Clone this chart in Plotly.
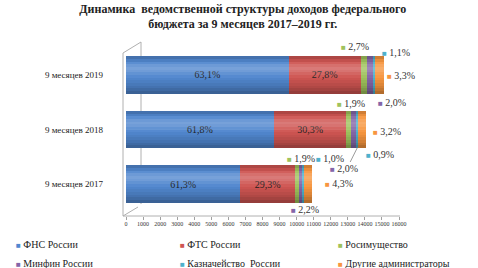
import plotly.graph_objects as go

# ---- data (billion roubles) ----
categories = ["9 месяцев 2017", "9 месяцев 2018", "9 месяцев 2019"]
series_names = ["ФНС России", "ФТС России", "Росимущество",
                "Минфин России", "Казначейство  России", "Другие администраторы"]
fns = [6700, 8671, 9541]
fts = [3202, 4251, 4203]
rosim = [208, 267, 408]
minfin = [240, 281, 302]
kazn = [109, 126, 166]
other = [470, 449, 499]

fns_pct = ["61,3%", "61,8%", "63,1%"]
fts_pct = ["29,3%", "30,3%", "27,8%"]
rosim_pct = ["1,9%", "1,9%", "2,7%"]
minfin_pct = ["2,2%", "2,0%", "2,0%"]
kazn_pct = ["1,0%", "0,9%", "1,1%"]
other_pct = ["4,3%", "3,2%", "3,3%"]

x_ticks = list(range(0, 16001, 1000))

# ---- styles ----
SERIF = "Liberation Serif, Times New Roman, serif"
colors = ["#5187cf", "#cf5552", "#9fc25c", "#8466a8", "#4eb1cc", "#f7963f"]
values = [fns, fts, rosim, minfin, kazn, other]
pcts = [fns_pct, fts_pct, rosim_pct, minfin_pct, kazn_pct, other_pct]

W, H = 478, 268
L, R, T, B = 126, 79, 43, 52
PW, PH = W - L - R, H - T - B
BAR_W = 0.68

fig = go.Figure()
legend_of = ["legend", "legend2", "legend3", "legend", "legend2", "legend3"]
for i, (name, vals, col) in enumerate(zip(series_names, values, colors)):
    inside = i < 2
    fig.add_trace(go.Bar(
        y=categories, x=vals, name=name, orientation="h",
        marker=dict(color=col, line=dict(width=0)),
        text=pcts[i] if inside else None,
        textposition="inside" if inside else "none",
        insidetextanchor="middle",
        textfont=dict(family=SERIF, size=10, color="#1e1e1e"),
        showlegend=False, hoverinfo="skip",
    ))

# cylinder shading bands (overlay, base=0 -> not stacked), top -> bottom
totals = [sum(v[k] for v in values) for k in range(len(categories))]
shade = ["rgba(0,0,0,0.16)", "rgba(0,0,0,0.06)", "rgba(255,255,255,0.06)",
         "rgba(255,255,255,0.16)", "rgba(255,255,255,0.22)", "rgba(255,255,255,0.18)",
         "rgba(255,255,255,0.10)", "rgba(255,255,255,0.03)", "rgba(0,0,0,0.02)",
         "rgba(0,0,0,0.06)", "rgba(0,0,0,0.10)", "rgba(0,0,0,0.15)",
         "rgba(0,0,0,0.21)", "rgba(0,0,0,0.28)"]
n = len(shade)
bw = BAR_W / n
for j, col in enumerate(shade):
    off = BAR_W / 2 - (j + 1) * bw
    fig.add_trace(go.Bar(
        y=categories, x=totals, base=[0] * len(categories), orientation="h",
        offset=off, width=bw * 1.02, marker=dict(color=col, line=dict(width=0)),
        showlegend=False, hoverinfo="skip",
    ))

# legend entries in three columns; the small coloured square is part of the entry text
for name, col, lg in zip(series_names, colors, legend_of):
    fig.add_trace(go.Scatter(
        x=[None], y=[None], mode="markers", legend=lg,
        name=f"<span style='color:{col};font-size:8px'>■</span> {name}",
        marker=dict(symbol="square", size=1, color="rgba(0,0,0,0)"),
    ))

# ---- callout labels for small segments ----
callouts = {
    2: [(-12, 26), (-14, 26), (-25, 28)],
    3: [(-12, -25), (-25, -39), (6, -28)],
    4: [(10, 26), (7, -25), (6, 22)],
    5: [(15, 1), (9, -2), (5, -1)],
}
annotations = []
for s, offs in callouts.items():
    for k, (dx, dy) in enumerate(offs):
        start = sum(values[j][k] for j in range(s))
        mid = start + values[s][k] / 2
        annotations.append(dict(
            x=mid, y=categories[k], xref="x", yref="y",
            text=f"<span style='color:{colors[s]};font-size:8px'>■</span> {pcts[s][k]}",
            showarrow=False, xanchor="left", yanchor="middle",
            xshift=dx, yshift=dy,
            font=dict(family=SERIF, size=10, color="#333333"),
        ))
k = 1
mid = sum(values[j][k] for j in range(3)) + values[3][k] / 2
annotations.append(dict(
    x=mid, y=categories[k], xref="x", yref="y", text="",
    showarrow=True, arrowhead=0, arrowwidth=0.8, arrowcolor="#808080",
    ax=-8, ay=16, xshift=4, yshift=-18,
))

# ---- 3D frame lines (pixel -> paper) ----
def px(x):
    return (x - L) / PW

def py(y):
    return (T + PH - y) / PH

frame = [((141, 42), (141, 204), "below"),
         ((123, 53), (123, 216), "above"),
         ((123, 53), (141, 42), "above"),
         ((123, 216), (138, 207), "above"),
         ((123, 216), (400, 216), "above")]
shapes = [dict(type="line", xref="paper", yref="paper",
               x0=px(a[0]), y0=py(a[1]), x1=px(b[0]), y1=py(b[1]),
               line=dict(color="#b0b0b0", width=1), layer=lay)
          for a, b, lay in frame]

legend_common = dict(orientation="v", xref="container", yref="container",
                     xanchor="left", yanchor="top", y=0.144,
                     traceorder="normal", indentation=-15,
                     font=dict(family=SERIF, size=10, color="#222222"),
                     itemclick=False, itemdoubleclick=False,
                     bgcolor="rgba(0,0,0,0)", tracegroupgap=0)

fig.update_layout(
    width=W, height=H,
    margin=dict(l=L, r=R, t=T, b=B, autoexpand=False),
    barmode="stack", bargap=1 - BAR_W,
    paper_bgcolor="white", plot_bgcolor="white",
    font=dict(family=SERIF, size=10, color="#222222"),
    title=dict(
        text="<b>Динамика  ведомственной структуры доходов федерального<br>бюджета за 9 месяцев 2017–2019 гг.</b>",
        x=0.508, xanchor="center", xref="container",
        y=0.953, yanchor="top", yref="container",
        font=dict(family=SERIF, size=12, color="#222222"),
    ),
    xaxis=dict(range=[0, 16000], tickvals=x_ticks, tickformat="d",
               showgrid=False, zeroline=False, showline=False,
               ticks="outside", ticklen=3, tickcolor="#a0a0a0",
               ticklabelstandoff=-1,
               tickfont=dict(family=SERIF, size=6, color="#333333")),
    yaxis=dict(categoryorder="array", categoryarray=categories,
               range=[-0.587, 2.587], showgrid=False, zeroline=False,
               showline=False, ticks="", ticklabelstandoff=22,
               tickfont=dict(family=SERIF, size=9, color="#222222")),
    legend=dict(legend_common, xref="paper", x=(-9 - L) / PW),
    legend2=dict(legend_common, x=(180 - 25) / W),
    legend3=dict(legend_common, x=(338 - 25) / W),
    annotations=annotations,
    shapes=shapes,
)

fig.write_html("out.html", config={"displayModeBar": False},
               post_script="document.body.style.margin='0';")
